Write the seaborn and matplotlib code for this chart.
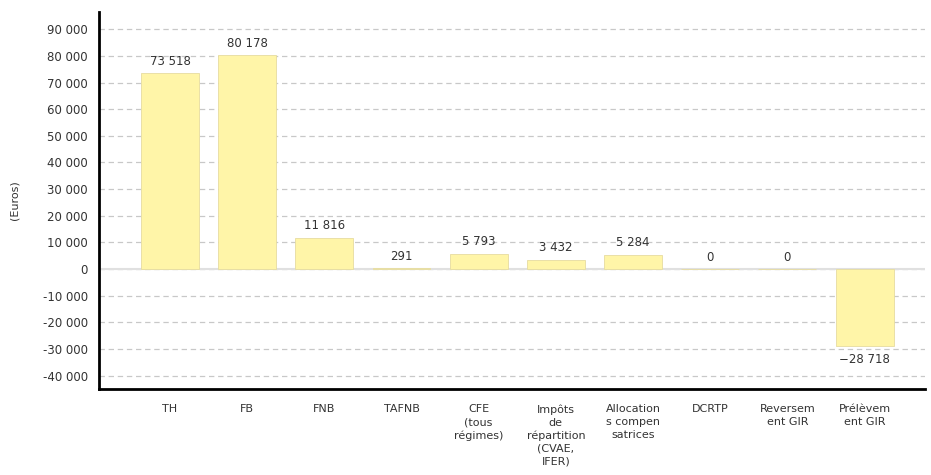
import pandas as pd
import seaborn as sns
import matplotlib.pyplot as plt

categories = ['TH', 'FB', 'FNB', 'TAFNB', 'CFE\n(tous\nrégimes)',
              'Impôts\nde\nrépartition\n(CVAE,\nIFER)', 'Allocation\ns compen\nsatrices',
              'DCRTP', 'Reversem\nent GIR', 'Prélèvem\nent GIR']
values = [73518, 80178, 11816, 291, 5793, 3432, 5284, 0, 0, -28718]
labels = ['73 518', '80 178', '11 816', '291', '5 793', '3 432', '5 284', '0', '0', '\u221228 718']
yticks = list(range(-40000, 90001, 10000))


def fmt(v):
    return f"{v:,}".replace(',', ' ')


def main():
    sns.set_style("white")
    plt.rcParams['font.family'] = ['DejaVu Sans']

    df = pd.DataFrame({'cat': categories, 'val': values})

    fig = plt.figure(figsize=(9.31, 4.75), dpi=100)
    ax = fig.add_axes([0.1063, 0.181, 0.887, 0.794])

    sns.barplot(data=df, x='cat', y='val', color='#fff5a8', saturation=1,
                width=0.75, edgecolor='#e6dca0', linewidth=0.6, ax=ax, zorder=3)

    ax.set_ylim(-45000, 96500)
    ax.set_xlim(-0.92, 9.78)
    ax.set_yticks(yticks)
    ax.set_yticklabels([fmt(t) for t in yticks], fontsize=8.5, color='#333333')
    ax.tick_params(axis='y', direction='out', length=5, width=2, color='black', pad=3)
    ax.tick_params(axis='x', length=0, labelsize=8, labelcolor='#333333', pad=11)
    for lbl in ax.get_xticklabels():
        lbl.set_verticalalignment('top')
        lbl.set_linespacing(1.35)

    ax.yaxis.grid(True, color='#c8c8c8', linestyle=(0, (4.3, 3.0)), linewidth=0.9, zorder=0)
    ax.set_axisbelow(True)
    ax.axhline(0, color='#e0e0e0', linewidth=1.5, zorder=1)

    for s in ['top', 'right']:
        ax.spines[s].set_visible(False)
    for s in ['left', 'bottom']:
        ax.spines[s].set_linewidth(2)
        ax.spines[s].set_color('black')

    for i, (v, t) in enumerate(zip(values, labels)):
        if v >= 0:
            ax.annotate(t, (i, v), xytext=(0, 4), textcoords='offset points',
                        ha='center', va='bottom', fontsize=8.5, color='#333333')
        else:
            ax.annotate(t, (i, v), xytext=(0, -5), textcoords='offset points',
                        ha='center', va='top', fontsize=8.5, color='#333333')

    ax.set_xlabel('')
    ax.set_ylabel('(Euros)', fontsize=8, color='#333333', labelpad=17)

    fig.savefig('out.png', dpi=100)
    plt.close()


if __name__ == "__main__":
    main()
